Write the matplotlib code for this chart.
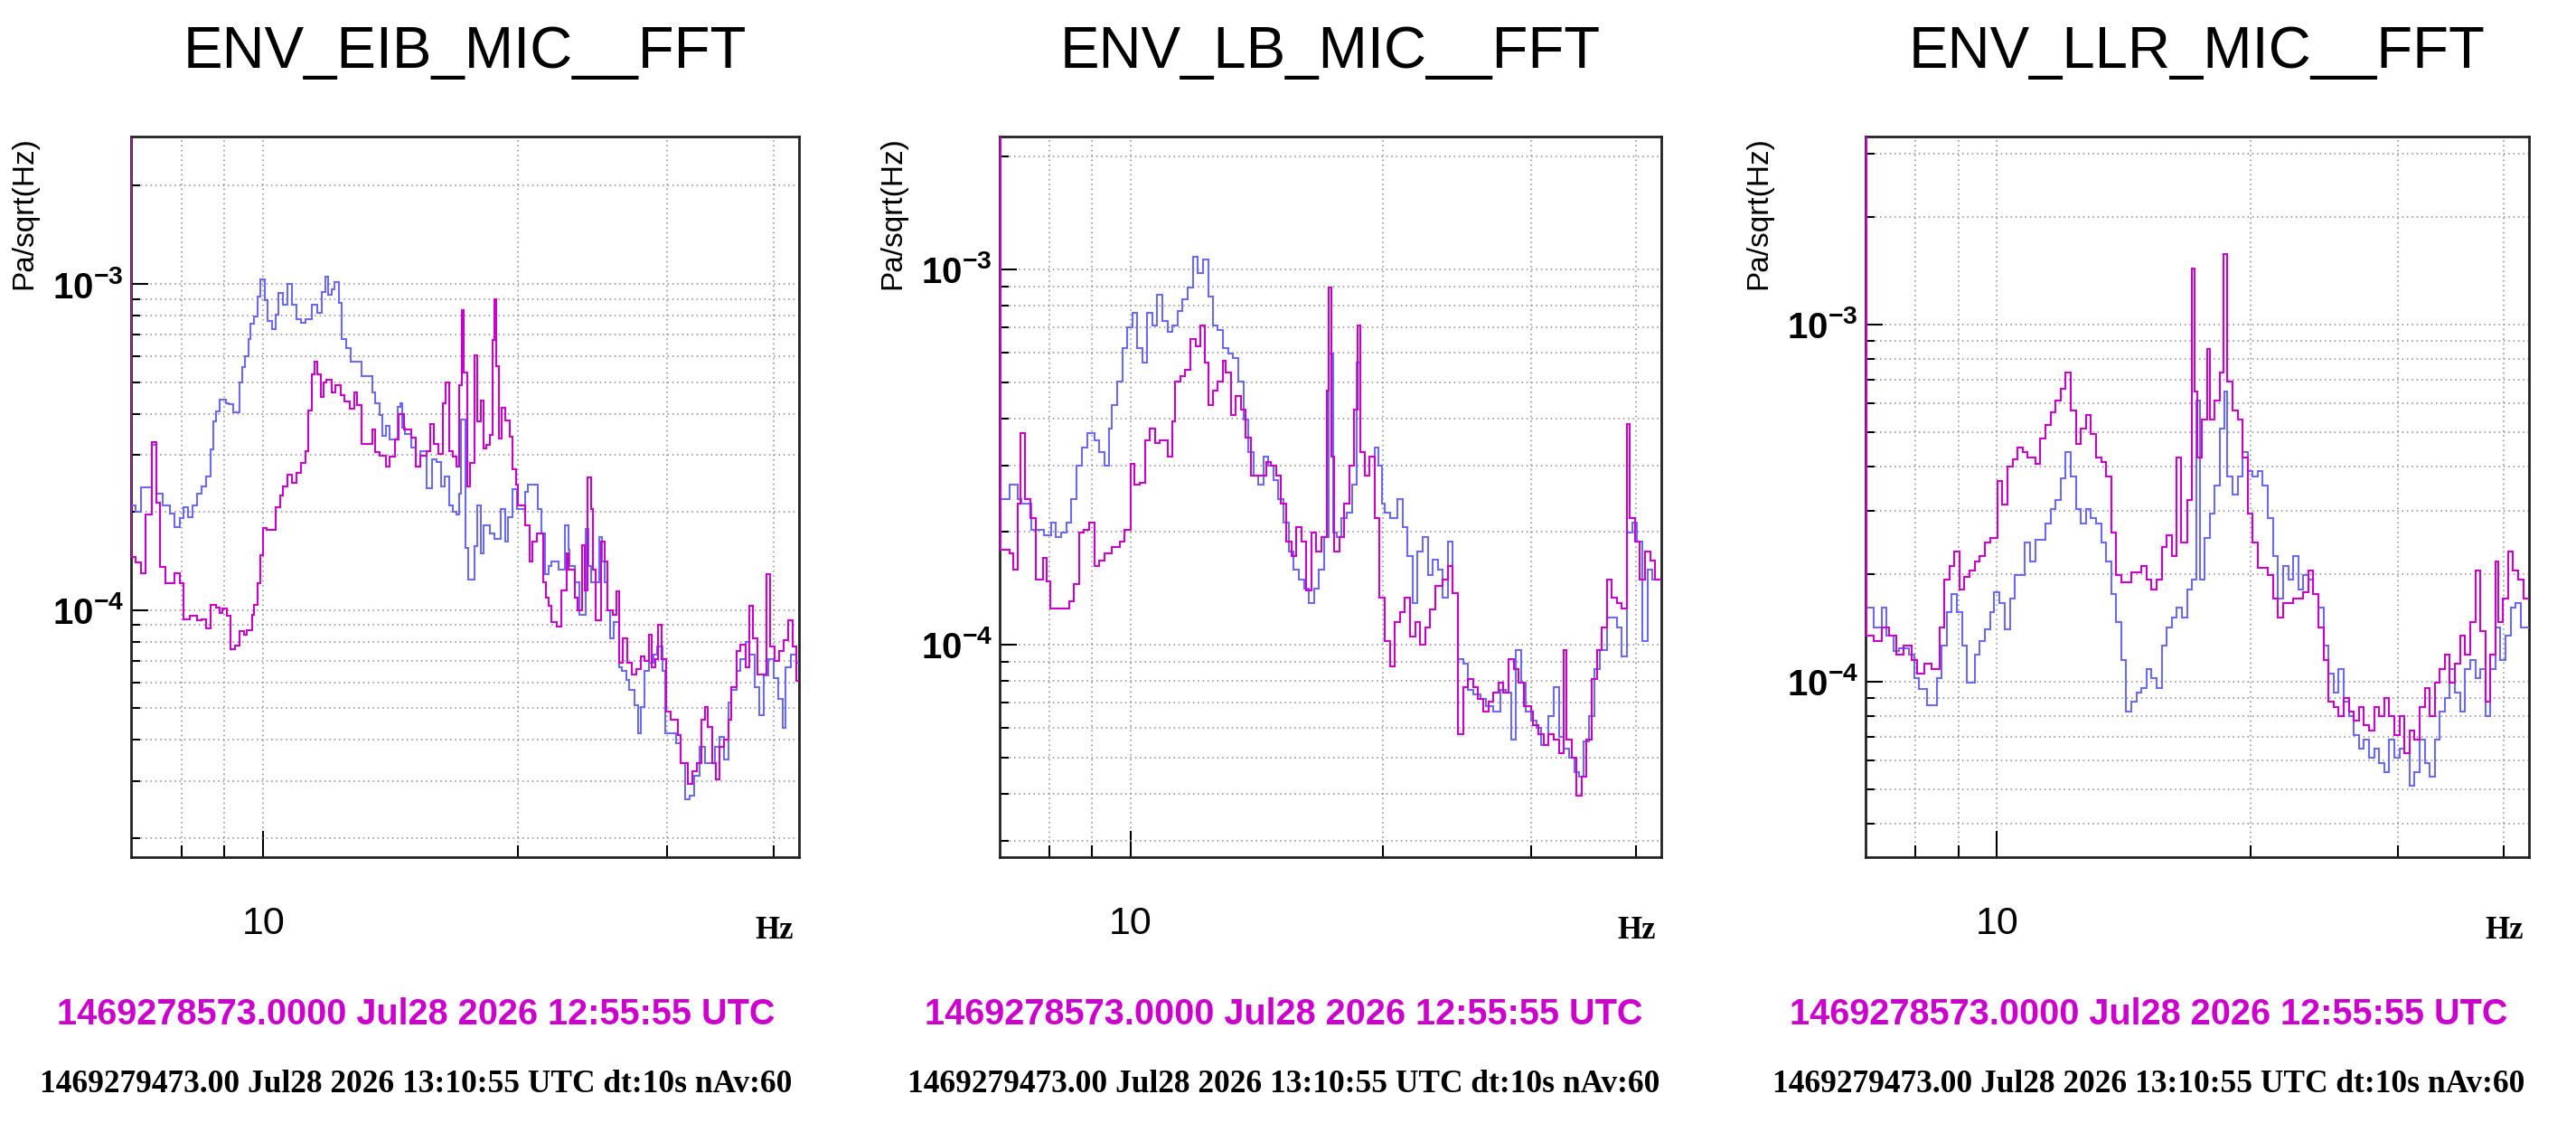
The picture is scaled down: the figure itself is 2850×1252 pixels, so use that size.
import numpy as np
import matplotlib
matplotlib.use("Agg")
import matplotlib.pyplot as plt
from matplotlib.ticker import FixedLocator, FixedFormatter, NullFormatter, LogLocator, FuncFormatter

plt.rcParams['font.family'] = ['Liberation Sans', 'DejaVu Sans']
plt.rcParams['mathtext.fontset'] = 'custom'
plt.rcParams['mathtext.rm'] = 'Liberation Sans'
plt.rcParams['mathtext.bf'] = 'Liberation Sans:bold'

titles = ["ENV_EIB_MIC__FFT", "ENV_LB_MIC__FFT", "ENV_LLR_MIC__FFT"]
ref_time = "1469278573.0000 Jul28 2026 12:55:55 UTC"
cur_time = "1469279473.00 Jul28 2026 13:10:55 UTC dt:10s nAv:60"
ylabel = "Pa/sqrt(Hz)"

# amplitudes in units of 1e-4 Pa/sqrt(Hz), freq = left bin edge in Hz
UNIT = 1e-4
F_END = 43.5

eib_blue_f = [6.9, 7.06, 7.17, 7.38, 7.47, 7.6, 7.75, 7.85, 7.98, 8.05, 8.15, 8.25, 8.35, 8.45, 8.56, 8.66, 8.73, 8.8, 8.88, 9.03,
              9.1, 9.21, 9.37, 9.44, 9.52, 9.6, 9.66, 9.74, 9.84, 9.92, 10.04, 10.12, 10.25, 10.33, 10.42, 10.55, 10.68, 10.81, 10.94, 11.08,
              11.22, 11.4, 11.59, 11.73, 11.83, 11.93, 12.03, 12.12, 12.28, 12.38, 12.53, 12.69, 13.05, 13.44, 13.54, 13.72, 13.83, 13.94, 14.11, 14.4,
              14.52, 14.58, 14.7, 14.95, 15.13, 15.32, 15.57, 15.83, 16.03, 16.23, 16.36, 16.56, 16.76, 16.89, 17.04, 17.1, 17.32, 17.46, 17.76, 17.9,
              18.05, 18.2, 18.5, 18.75, 19.05, 19.3, 19.45, 19.7, 19.95, 20.37, 20.54, 21.1, 21.3, 21.5, 21.7, 21.9, 22.3, 22.7, 22.9, 23.0,
              23.3, 23.6, 24.0, 24.2, 24.4, 24.9, 25.1, 25.3, 25.5, 25.7, 25.9, 26.3, 26.5, 26.8, 27.0, 27.4, 27.7, 27.9, 28.2, 28.5,
              28.9, 29.2, 29.6, 29.8, 30.7, 31.1, 31.5, 31.9, 32.3, 32.7, 33.2, 34.1, 34.6, 35.0, 35.4, 35.7, 36.2, 36.6, 37.1, 37.5,
              38.0, 38.5, 39.0, 39.5, 40.0, 40.5, 41.0, 41.3, 42.0, 42.6]
eib_blue = [2.1, 2.0, 2.38, 3.21, 2.27, 2.09, 1.98, 1.8, 1.91, 2.07, 1.93, 2.09, 2.27, 2.4, 2.57, 3.12, 3.79, 4.06, 4.42, 4.3,
            4.27, 4.04, 4.99, 5.56, 5.99, 6.79, 7.53, 7.97, 9.15, 10.3, 8.9, 7.7, 7.28, 8.07, 9.36, 8.64, 10.0, 8.64, 7.8, 7.6,
            7.8, 8.64, 8.16, 9.45, 10.5, 9.25, 9.6, 10.14, 8.74, 6.79, 6.34, 5.79, 5.2, 4.66, 4.3, 3.97, 3.42, 3.67, 3.34, 4.2,
            4.3, 3.62, 3.46, 3.16, 2.75, 3.08, 2.37, 2.9, 2.85, 2.4, 2.57, 2.09, 2.0, 1.96, 2.27, 3.84, 1.55, 1.24, 1.57, 2.09,
            1.49, 1.82, 1.72, 1.65, 2.04, 1.62, 1.93, 2.35, 2.04, 2.3, 2.42, 2.04, 1.72, 1.29, 1.37, 1.41, 1.33, 1.82, 1.53, 1.37,
            1.22, 0.97, 1.77, 1.37, 1.22, 1.67, 1.41, 1.22, 1.0, 0.82, 0.92, 0.67, 0.65, 0.61, 0.57, 0.51, 0.42, 0.505, 0.65, 0.69,
            0.73, 0.775, 0.65, 0.42, 0.39, 0.34, 0.263, 0.27, 0.31, 0.38, 0.34, 0.38, 0.41, 0.348, 0.52, 0.57, 0.65, 0.71, 0.8, 0.73,
            0.58, 0.477, 0.63, 0.71, 0.62, 0.535, 0.437, 0.67, 0.73, 0.69]

eib_mag_f = [6.9, 6.985, 7.06, 7.17, 7.26, 7.38, 7.47, 7.56, 7.66, 7.85, 7.98, 8.05, 8.18, 8.35, 8.45, 8.56, 8.66, 8.8, 8.88, 8.95,
             9.06, 9.14, 9.25, 9.37, 9.49, 9.56, 9.69, 9.76, 9.84, 9.92, 10.0, 10.08, 10.33, 10.46, 10.55, 10.68, 10.81, 10.94, 11.08, 11.22,
             11.3, 11.4, 11.5, 11.59, 11.68, 11.78, 11.88, 12.03, 12.17, 12.33, 12.48, 12.64, 12.8, 12.9, 13.05, 13.44, 13.54, 13.72, 13.94, 14.11,
             14.29, 14.46, 14.65, 14.95, 15.13, 15.32, 15.57, 15.75, 15.89, 16.1, 16.3, 16.43, 16.56, 16.76, 16.89, 17.04, 17.17, 17.25, 17.39, 17.55,
             17.76, 17.9, 18.05, 18.2, 18.35, 18.5, 18.66, 18.75, 18.85, 18.97, 19.13, 19.3, 19.54, 19.7, 19.87, 20.0, 20.37, 20.62, 20.8, 21.06,
             21.4, 21.57, 21.73, 21.9, 22.2, 22.5, 22.8, 22.95, 23.3, 23.47, 23.77, 23.95, 24.17, 24.35, 24.5, 24.7, 25.03, 25.3, 25.5, 25.83,
             26.14, 26.3, 26.58, 26.9, 27.25, 27.6, 27.94, 28.2, 28.5, 28.77, 29.05, 29.26, 29.5, 29.87, 30.25, 30.85, 31.1, 31.7, 32.1, 32.5,
             32.9, 33.2, 33.5, 33.85, 34.2, 34.6, 35.0, 35.4, 35.7, 36.2, 36.6, 37.1, 37.5, 37.87, 38.35, 39.3, 39.65, 40.15, 40.6, 41.16,
             41.7, 42.2, 42.6]
eib_mag = [100, 1.46, 1.4, 1.3, 1.96, 3.28, 2.14, 1.36, 1.21, 1.3, 1.21, 0.94, 0.96, 0.93, 0.94, 0.88, 1.04, 1.02, 0.98, 1.01,
           0.96, 0.76, 0.78, 0.86, 0.84, 0.87, 0.97, 1.04, 1.21, 1.47, 1.79, 1.76, 2.07, 2.25, 2.4, 2.6, 2.46, 2.63, 2.82, 3.08,
           4.1, 5.28, 5.79, 5.28, 4.5, 4.99, 5.1, 4.66, 4.88, 4.56, 4.35, 4.15, 4.66, 4.25, 3.23, 3.58, 3.05, 2.98, 2.75, 2.95,
           3.33, 4.0, 3.58, 3.37, 2.75, 2.98, 3.08, 3.71, 3.23, 3.01, 4.3, 5.0, 3.08, 2.95, 2.75, 4.88, 8.3, 5.35, 2.4, 2.82,
           6.06, 3.8, 4.4, 3.13, 3.22, 3.45, 6.75, 9.0, 5.6, 3.36, 4.16, 3.82, 3.4, 2.71, 2.42, 2.1, 1.82, 1.41, 1.62, 1.72,
           1.22, 1.09, 1.03, 0.92, 0.89, 1.15, 1.49, 1.33, 1.09, 1.0, 1.58, 1.15, 2.56, 2.04, 1.33, 0.93, 1.62, 1.41, 1.0, 0.97,
           1.14, 0.69, 0.82, 0.69, 0.634, 0.662, 0.72, 0.70, 0.843, 0.67, 0.71, 0.905, 0.71, 0.49, 0.463, 0.413, 0.339, 0.294, 0.32, 0.339,
           0.463, 0.505, 0.438, 0.339, 0.302, 0.38, 0.402, 0.463, 0.582, 0.752, 0.785, 0.67, 1.03, 0.82, 0.634, 1.29, 0.774, 0.70, 0.752, 0.807,
           0.93, 0.774, 0.607]

lb_blue_f = [6.9, 7.17, 7.33, 7.4, 7.61, 7.88, 8.05, 8.15, 8.27, 8.39, 8.5, 8.62, 8.74, 8.87, 9.05, 9.18, 9.3, 9.43, 9.5, 9.63,
             9.77, 9.9, 10.04, 10.18, 10.32, 10.47, 10.61, 10.76, 10.91, 11.07, 11.22, 11.38, 11.53, 11.7, 11.86, 12.03, 12.2, 12.37, 12.53, 12.7,
             12.89, 13.07, 13.25, 13.44, 13.63, 13.82, 14.01, 14.2, 14.4, 14.6, 14.8, 15.0, 15.22, 15.43, 15.65, 15.87, 16.09, 16.3, 16.54, 16.77,
             17.0, 17.24, 17.43, 17.6, 17.84, 18.1, 18.35, 18.6, 18.78, 19.0, 19.26, 19.53, 19.75, 19.95, 20.1, 20.37, 20.8, 21.08, 21.38, 21.68,
             21.98, 22.28, 22.6, 22.9, 23.23, 23.55, 23.88, 24.2, 24.55, 24.9, 25.25, 25.6, 26.14, 26.5, 27.05, 27.62, 28.0, 28.4, 28.8, 29.2,
             29.6, 30.0, 30.44, 30.87, 31.5, 31.95, 32.4, 32.85, 33.3, 33.77, 34.23, 34.7, 35.2, 35.7, 36.2, 36.95, 37.99, 38.5, 39.06, 39.6,
             40.17, 40.7, 41.3, 41.86]
lb_blue = [2.44, 2.66, 2.44, 2.37, 2.02, 1.96, 2.11, 1.93, 1.99, 2.11, 2.44, 2.99, 3.35, 3.65, 3.5, 3.26, 2.99, 3.76, 4.35, 5.02,
           6.15, 7.0, 7.64, 6.15, 5.64, 7.64, 7.1, 8.56, 7.3, 6.8, 7.1, 7.75, 8.33, 8.96, 10.8, 9.77, 10.65, 8.46, 7.1, 6.9,
           6.15, 5.97, 5.8, 5.02, 3.98, 3.26, 2.82, 2.66, 3.16, 2.99, 2.74, 2.44, 2.11, 1.77, 1.58, 1.49, 1.41, 1.29, 1.41, 1.58,
           1.93, 5.97, 1.99, 1.93, 2.17, 2.24, 2.66, 5.64, 3.26, 2.82, 3.16, 3.35, 2.99, 2.37, 2.24, 2.17, 2.44, 2.05, 1.72, 1.29,
           1.77, 1.93, 1.53, 1.68, 1.58, 1.33, 1.88, 1.37, 0.913, 0.89, 0.756, 0.735, 0.715, 0.684, 0.664, 0.756, 0.746, 0.559, 0.967, 0.79,
           0.664, 0.627, 0.6, 0.54, 0.645, 0.768, 0.567, 0.528, 0.498, 0.457, 0.444, 0.55, 0.645, 0.86, 0.967, 1.18, 1.11, 0.93, 1.99, 2.11,
           1.88, 1.02, 1.58, 1.49]

lb_mag_f = [6.9, 6.99, 7.17, 7.25, 7.33, 7.39, 7.49, 7.59, 7.7, 7.86, 7.94, 8.02, 8.45, 8.56, 8.68, 8.8, 8.93, 9.05, 9.18, 9.3,
            9.5, 9.7, 9.83, 10.0, 10.11, 10.25, 10.4, 10.54, 10.69, 10.84, 11.07, 11.22, 11.3, 11.45, 11.62, 11.78, 11.95, 12.11, 12.25, 12.37,
            12.53, 12.7, 12.89, 12.98, 13.16, 13.35, 13.53, 13.72, 13.92, 14.5, 14.7, 14.9, 15.1, 15.33, 15.54, 15.76, 15.98, 16.2, 16.42, 16.65,
            16.89, 17.12, 17.24, 17.36, 17.48, 17.72, 17.97, 18.22, 18.48, 18.65, 18.8, 19.0, 19.26, 19.53, 19.8, 20.1, 20.37, 20.65, 20.94, 21.23,
            21.53, 21.83, 22.13, 22.44, 22.75, 23.07, 23.55, 23.88, 24.2, 24.55, 24.9, 25.25, 25.6, 25.95, 26.32, 26.68, 27.05, 27.43, 27.8, 28.2,
            28.6, 29.0, 29.4, 30.0, 30.2, 30.65, 31.1, 31.5, 31.95, 32.4, 32.85, 33.07, 33.53, 34.0, 34.47, 34.96, 35.44, 35.94, 36.44, 36.95,
            37.46, 37.99, 38.5, 39.06, 39.3, 39.9, 40.45, 41.0, 41.6, 42.15]
lb_mag = [100, 1.79, 1.75, 1.58, 2.37, 3.67, 2.44, 2.17, 1.49, 1.70, 1.47, 1.25, 1.3, 1.45, 1.99, 2.02, 2.11, 1.62, 1.67, 1.75,
          1.82, 1.88, 2.02, 3.03, 2.66, 2.7, 3.5, 3.76, 3.45, 3.5, 3.16, 3.93, 5.02, 5.2, 5.4, 6.52, 6.24, 7.1, 5.64, 4.35,
          4.74, 5.02, 5.72, 5.32, 4.1, 4.6, 4.22, 3.55, 2.82, 3.07, 2.99, 2.82, 2.37, 1.88, 1.72, 2.05, 1.88, 1.39, 1.99, 1.77,
          1.93, 4.74, 8.96, 3.16, 1.77, 1.93, 2.37, 2.99, 4.22, 7.1, 3.26, 2.82, 3.16, 2.17, 1.33, 1.02, 0.875, 1.15, 1.22, 1.33,
          1.05, 1.15, 1.0, 1.11, 1.24, 1.43, 1.49, 1.62, 1.37, 0.576, 0.768, 0.81, 0.768, 0.715, 0.664, 0.704, 0.746, 0.79, 0.746, 0.913,
          0.86, 0.79, 0.684, 0.664, 0.61, 0.576, 0.54, 0.576, 0.559, 0.513, 0.967, 0.559, 0.498, 0.396, 0.444, 0.559, 0.81, 0.967, 1.11, 1.49,
          1.33, 1.29, 1.25, 3.87, 2.17, 1.88, 1.49, 1.77, 1.67, 1.49]

llr_blue_f = [6.9, 7.14, 7.29, 7.39, 7.54, 7.65, 7.86, 7.97, 8.08, 8.25, 8.48, 8.6, 8.72, 8.84, 8.96, 9.09, 9.21, 9.41, 9.54, 9.67,
              9.81, 9.92, 10.06, 10.22, 10.37, 10.51, 10.8, 10.96, 11.11, 11.42, 11.58, 11.74, 11.9, 12.07, 12.24, 12.41, 12.58, 12.76, 12.93, 13.11,
              13.3, 13.48, 13.67, 13.86, 14.05, 14.25, 14.45, 14.65, 14.86, 15.06, 15.27, 15.48, 15.7, 15.92, 16.14, 16.36, 16.59, 16.83, 17.06, 17.25,
              17.42, 17.66, 17.9, 18.15, 18.4, 18.66, 18.79, 19.05, 19.32, 19.59, 19.86, 20.14, 20.42, 20.7, 20.99, 21.28, 21.58, 21.88, 22.19, 22.5,
              22.81, 23.13, 23.45, 23.78, 24.11, 24.45, 24.79, 25.13, 25.48, 25.84, 26.2, 26.57, 26.94, 27.31, 27.7, 28.08, 28.47, 28.87, 29.27, 29.68,
              30.09, 30.51, 30.94, 31.37, 31.8, 32.25, 32.69, 33.15, 33.61, 34.08, 34.55, 35.03, 35.52, 36.02, 36.52, 37.03, 37.54, 38.07, 38.6, 39.13,
              39.68, 40.23, 40.79, 41.36, 41.93]
llr_blue = [1.61, 1.42, 1.61, 1.34, 1.22, 1.24, 1.19, 1.02, 0.95, 0.86, 1.02, 1.26, 1.56, 1.76, 1.56, 1.26, 0.99, 1.19, 1.3, 1.4,
            1.56, 1.78, 1.66, 1.4, 1.71, 1.99, 2.45, 2.17, 2.5, 2.77, 3.04, 3.23, 3.7, 4.38, 3.76, 3.04, 2.77, 3.04, 2.86, 2.77,
            2.45, 2.17, 1.76, 1.47, 1.15, 0.825, 0.876, 0.93, 0.96, 1.08, 1.02, 0.96, 1.26, 1.42, 1.51, 1.61, 1.51, 1.81, 1.93, 6.11,
            1.93, 2.53, 2.95, 3.54, 5.1, 6.49, 3.76, 3.33, 3.76, 4.38, 3.88, 3.76, 3.88, 3.54, 2.86, 2.24, 1.71, 2.11, 1.93, 2.24,
            1.81, 1.99, 1.93, 1.76, 1.61, 1.26, 1.05, 0.93, 1.08, 0.876, 0.8, 0.709, 0.648, 0.688, 0.61, 0.648, 0.592, 0.557, 0.688, 0.61,
            0.648, 0.629, 0.509, 0.557, 0.688, 0.592, 0.54, 0.688, 0.825, 0.9, 1.08, 0.93, 0.825, 1.08, 1.15, 1.02, 1.08, 0.8, 1.08, 1.42,
            1.15, 1.34, 1.61, 1.66, 1.42]

llr_mag_f = [6.9, 6.99, 7.14, 7.29, 7.44, 7.59, 7.75, 7.92, 8.03, 8.19, 8.36, 8.54, 8.66, 8.78, 8.9, 9.03, 9.15, 9.28, 9.41, 9.54,
             9.67, 9.81, 10.01, 10.15, 10.3, 10.44, 10.58, 10.73, 10.88, 11.11, 11.26, 11.42, 11.58, 11.74, 11.9, 12.07, 12.24, 12.41, 12.58, 12.76,
             12.93, 13.11, 13.3, 13.48, 13.67, 13.86, 14.05, 14.45, 14.86, 15.06, 15.27, 15.48, 15.7, 15.92, 16.14, 16.36, 16.55, 16.83, 17.06, 17.18,
             17.3, 17.54, 17.78, 17.9, 18.15, 18.4, 18.58, 18.79, 19.05, 19.32, 19.59, 19.86, 20.14, 20.42, 20.99, 21.28, 21.58, 21.88, 22.5, 23.13,
             23.45, 23.78, 24.11, 24.45, 24.79, 25.13, 25.48, 25.84, 26.2, 26.57, 26.94, 27.31, 27.7, 28.08, 28.47, 28.87, 29.27, 29.68, 30.09, 30.51,
             30.94, 31.37, 31.8, 32.25, 32.69, 33.15, 33.61, 34.08, 34.55, 35.03, 35.52, 36.02, 36.52, 37.03, 37.54, 38.07, 38.6, 39.13, 39.4, 39.95,
             40.5, 41.07, 41.64, 42.22]
llr_mag = [100, 1.34, 1.3, 1.42, 1.34, 1.19, 1.26, 1.15, 1.05, 1.12, 1.08, 1.42, 1.93, 2.11, 2.31, 1.81, 1.96, 2.05, 2.17, 2.24,
           2.45, 2.53, 3.65, 3.13, 4.0, 4.18, 4.52, 4.38, 4.25, 4.06, 4.8, 5.24, 5.67, 6.11, 6.59, 7.34, 5.75, 4.63, 5.1, 5.58,
           4.94, 4.25, 4.12, 3.76, 2.61, 1.99, 1.9, 2.02, 2.11, 1.93, 1.81, 1.93, 2.38, 2.57, 2.24, 4.25, 2.45, 3.23, 14.3, 6.49,
           4.25, 5.41, 8.54, 5.41, 6.11, 7.34, 15.7, 6.9, 5.75, 5.41, 4.25, 2.95, 2.45, 2.08, 1.99, 1.71, 1.51, 1.66, 1.71, 1.78,
           2.05, 1.76, 1.42, 1.15, 0.876, 0.85, 0.8, 0.9, 0.825, 0.776, 0.85, 0.753, 0.73, 0.85, 0.8, 0.9, 0.8, 0.709, 0.8, 0.629,
           0.73, 0.688, 0.85, 0.96, 0.8, 0.99, 1.08, 1.19, 0.99, 1.12, 1.34, 1.19, 1.47, 2.05, 1.38, 0.876, 1.19, 2.17, 1.47, 1.71,
           2.31, 2.05, 1.93, 1.71]

blue_series = [(eib_blue_f, eib_blue), (lb_blue_f, lb_blue), (llr_blue_f, llr_blue)]
mag_series = [(eib_mag_f, eib_mag), (lb_mag_f, lb_mag), (llr_mag_f, llr_mag)]
ylims = [(1.75e-5, 2.83e-3), (2.71e-5, 2.26e-3), (3.22e-5, 3.36e-3)]
xlim = (6.98, 42.9)

W, H = 2850, 1252
ax_px = [(145, 884), (1106, 1838), (2064, 2798)]
text_cx = [460, 1420, 2377]
top_px, bot_px = 151, 948
BLUE = '#6a6af4'
MAG = '#cc00cc'

fig = plt.figure(figsize=(W / 100, H / 100), dpi=100)

for i in range(3):
    x0, x1 = ax_px[i]
    ax = fig.add_axes([x0 / W, 1 - bot_px / H, (x1 - x0) / W, (bot_px - top_px) / H])
    ax.set_xscale('log')
    ax.set_yscale('log')

    for (f, v), col in [(blue_series[i], BLUE), (mag_series[i], MAG)]:
        edges = list(f) + [F_END]
        ax.stairs(np.array(v) * UNIT, edges, baseline=None, color=col, lw=1.5, zorder=3)

    ax.set_xlim(*xlim)
    ax.set_ylim(*ylims[i])

    ax.xaxis.set_major_locator(FixedLocator([10]))
    ax.xaxis.set_major_formatter(FixedFormatter(['10']))
    ax.xaxis.set_minor_locator(FixedLocator([8, 9, 20, 30, 40]))
    ax.xaxis.set_minor_formatter(NullFormatter())
    ax.yaxis.set_major_locator(LogLocator(base=10))
    ax.yaxis.set_minor_locator(LogLocator(base=10, subs=np.arange(2, 10)))
    ax.yaxis.set_minor_formatter(NullFormatter())
    ax.yaxis.set_major_formatter(FuncFormatter(lambda v, p: r'$\mathbf{10^{%d}}$' % round(np.log10(v))))

    ax.tick_params(axis='x', which='major', direction='in', length=21, width=1.5, pad=39, labelsize=31)
    ax.tick_params(axis='x', which='minor', direction='in', length=9.5, width=1.5)
    ax.tick_params(axis='y', which='major', direction='in', length=14, width=1.5, pad=6, labelsize=29)
    ax.tick_params(axis='y', which='minor', direction='in', length=7, width=1.5)

    ax.grid(True, which='both', color='#8a8a8a', linestyle=(0, (1, 2.5)), lw=1.1)
    ax.set_axisbelow(True)
    for s in ax.spines.values():
        s.set_linewidth(2)
        s.set_color('#222222')

    fig.text((x0 + x1) / 2 / W, 1 - 75 / H, titles[i], ha='center', va='baseline', fontsize=47)
    fig.text((x0 - 118) / W, 1 - top_px / H, ylabel, rotation=90, ha='center', va='top', fontsize=24)
    fig.text((x1 - 6) / W, 1 - 1038 / H, 'Hz', ha='right', va='baseline', fontsize=25,
             family='Liberation Serif', weight='bold')
    fig.text(text_cx[i] / W, 1 - 1133 / H, ref_time, ha='center', va='baseline', fontsize=28.5,
             weight='bold', color=MAG)
    fig.text(text_cx[i] / W, 1 - 1208 / H, cur_time, ha='center', va='baseline', fontsize=25.5,
             family='Liberation Serif', weight='bold')

fig.savefig('out.png', dpi=100)
